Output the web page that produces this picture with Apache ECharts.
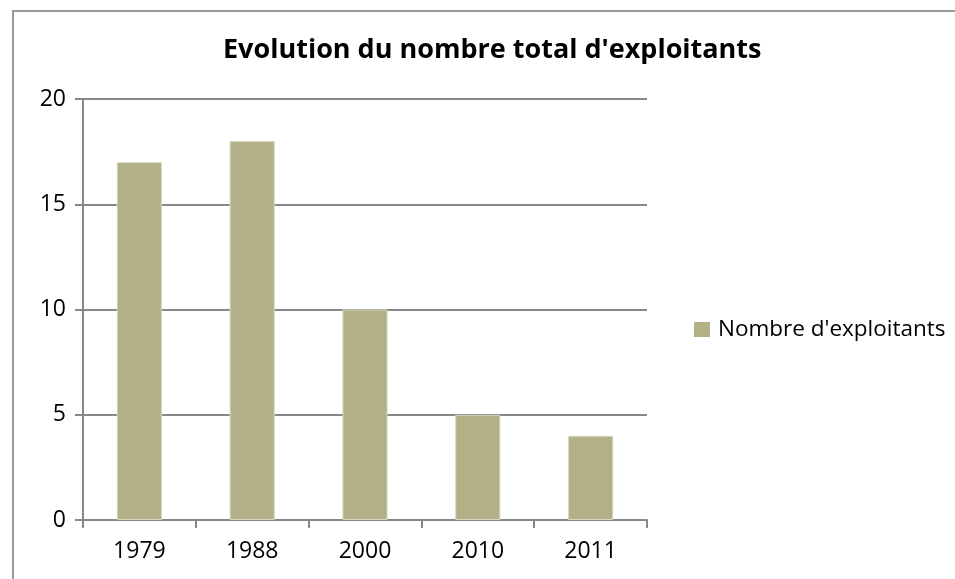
<!DOCTYPE html>
<html><head><meta charset="utf-8">
<script src="https://cdn.jsdelivr.net/npm/echarts@6/dist/echarts.min.js"></script>
<style>html,body{margin:0;padding:0;background:#fff}#c{width:955px;height:579px}</style>
</head><body><div id="c"></div>
<script>
const categories = ['1979', '1988', '2000', '2010', '2011'];
const seriesName = "Nombre d'exploitants";
const values = [17, 18, 10, 5, 4];
const titleText = "Evolution du nombre total d'exploitants";

const chart = echarts.init(document.getElementById('c'), null, {renderer: 'canvas'});
chart.setOption({
  animation: false,
  backgroundColor: '#fff',
  title: {
    text: titleText, left: 218, top: 32,
    textStyle: {fontFamily: 'Open Sans', fontSize: 27, fontWeight: 'bold', color: '#000'}
  },
  legend: {
    data: [seriesName], left: 689, top: 313, orient: 'vertical',
    itemWidth: 16, itemHeight: 15, itemGap: 6,
    icon: 'rect',
    itemStyle: {borderWidth: 0},
    textStyle: {fontFamily: 'Open Sans', fontSize: 22.5, color: '#000', padding: [0,0,0,3]}
  },
  graphic: [{
    type: 'rect', shape: {x: 13, y: 11, width: 1000, height: 700},
    style: {fill: null, stroke: '#999', lineWidth: 2}, silent: true
  }],
  grid: {left: 83, right: 308, top: 99, bottom: 59, containLabel: false},
  xAxis: {
    type: 'category', data: categories, boundaryGap: true,
    axisLine: {lineStyle: {color: '#888', width: 2}},
    axisTick: {show: true, length: 8, inside: false, lineStyle: {color: '#888', width: 2}},
    axisLabel: {fontFamily: 'Open Sans', fontSize: 23, color: '#000', margin: 20}
  },
  yAxis: {
    type: 'value', min: 0, max: 20, interval: 5,
    axisLine: {show: true, lineStyle: {color: '#888', width: 2}},
    axisTick: {show: true, length: 8, lineStyle: {color: '#888', width: 2}},
    splitLine: {show: true, lineStyle: {color: '#888', width: 2}},
    axisLabel: {fontFamily: 'Open Sans', fontSize: 23, color: '#000', margin: 17}
  },
  series: [{
    name: seriesName, type: 'bar', data: values, barWidth: '40%',
    itemStyle: {color: '#b2b086', borderColor: '#d8d6c0', borderWidth: 1}
  }]
});
</script></body></html>
